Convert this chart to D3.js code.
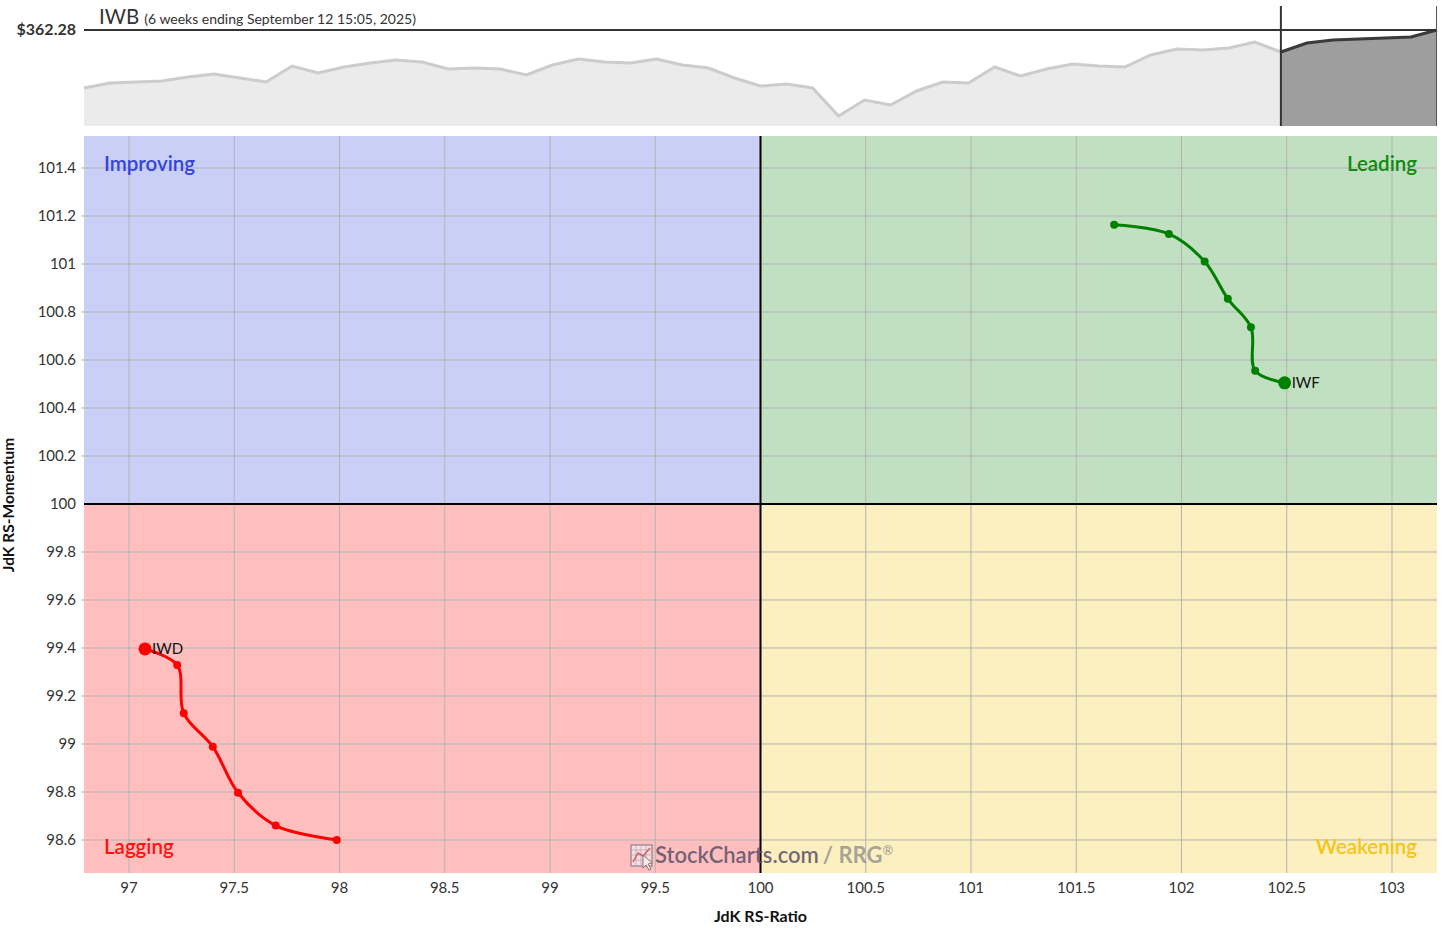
<!DOCTYPE html>
<html>
<head>
<meta charset="utf-8">
<script src="https://cdn.jsdelivr.net/npm/d3@7"></script>
<style>
  html, body { margin: 0; padding: 0; background: #fff; }
  svg { display: block; font-family: Lato, "Noto Sans", sans-serif; }
</style>
</head>
<body>
<svg id="chart" width="1445" height="931"></svg>
<script>
// ---------- data ----------
const benchmark = "IWB";
const subtitle = "(6 weeks ending September 12 15:05, 2025)";
const lastPriceLabel = "$362.28";

// benchmark price history (oldest -> newest); last 7 points are the highlighted 6-week window
const prices = [350.68, 351.68, 351.88, 352.08, 352.88, 353.48, 352.68, 351.88, 355.08, 353.68,
  354.88, 355.68, 356.28, 355.88, 354.48, 354.68, 354.48, 353.28, 355.28, 356.48,
  355.88, 355.68, 356.48, 355.28, 354.68, 352.68, 351.08, 351.48, 350.68, 345.08,
  348.28, 347.28, 350.08, 351.88, 351.68, 354.88, 353.08, 354.48, 355.48, 355.08,
  354.88, 357.28, 358.48, 358.28, 358.68, 359.88, 357.88, 359.68, 360.28, 360.48,
  360.68, 360.88, 362.28];
const tailStart = 46; // index where the 6-week window begins

// RRG tails (oldest -> newest)
const iwfRatio    = [101.68, 101.94, 102.11, 102.22, 102.33, 102.35, 102.49];
const iwfMomentum = [101.164, 101.125, 101.01, 100.855, 100.736, 100.555, 100.505];
const iwdRatio    = [97.987, 97.697, 97.518, 97.398, 97.26, 97.229, 97.076];
const iwdMomentum = [98.60, 98.66, 98.797, 98.989, 99.128, 99.329, 99.396];

const xTicks = [97, 97.5, 98, 98.5, 99, 99.5, 100, 100.5, 101, 101.5, 102, 102.5, 103];
const yTicks = [98.6, 98.8, 99, 99.2, 99.4, 99.6, 99.8, 100, 100.2, 100.4, 100.6, 100.8, 101, 101.2, 101.4];

const series = [
  { name: "IWF", ratio: iwfRatio, momentum: iwfMomentum, color: "#008000" },
  { name: "IWD", ratio: iwdRatio, momentum: iwdMomentum, color: "#ff0000" }
];

// ---------- layout ----------
const svg = d3.select("#chart");
const L = 84, R = 1437, T = 136, B = 873;
const x = d3.scaleLinear().domain([96.7862, 103.2138]).range([L, R]);
const y = d3.scaleLinear().domain([98.4625, 101.5333]).range([B, T]);

// ---------- price panel ----------
const pT = 30, pB = 126;
const px = d3.scaleLinear().domain([0, prices.length - 1]).range([L, R]);
const py = d3.scaleLinear().domain([343.08, 362.28]).range([pB, pT]);
const pts = prices.map((v, i) => [i, v]);
const area = d3.area().x(d => px(d[0])).y0(pB).y1(d => py(d[1]));
const line = d3.line().x(d => px(d[0])).y(d => py(d[1]));

const hist = pts.slice(0, tailStart + 1);
const tail = pts.slice(tailStart);
svg.append("path").attr("d", area(hist)).attr("fill", "#ebebeb");
svg.append("path").attr("d", line(hist)).attr("fill", "none").attr("stroke", "#cccccc").attr("stroke-width", 3);
svg.append("path").attr("d", area(tail)).attr("fill", "#9e9e9e");
svg.append("path").attr("d", line(tail)).attr("fill", "none").attr("stroke", "#3a3a3a").attr("stroke-width", 3);

svg.append("line").attr("x1", L).attr("x2", R).attr("y1", py(prices[prices.length - 1])).attr("y2", py(prices[prices.length - 1]))
  .attr("stroke", "#333").attr("stroke-width", 2);
svg.append("line").attr("x1", px(tailStart)).attr("x2", px(tailStart)).attr("y1", 6).attr("y2", pB)
  .attr("stroke", "#333").attr("stroke-width", 2);
svg.append("line").attr("x1", R - 0.5).attr("x2", R - 0.5).attr("y1", 6).attr("y2", pB)
  .attr("stroke", "#555").attr("stroke-width", 1);

svg.append("text").attr("x", 76).attr("y", 35).attr("text-anchor", "end")
  .attr("font-size", 16).attr("font-weight", "bold").attr("fill", "#333").text(lastPriceLabel);
const hdr = svg.append("text").attr("x", 99).attr("y", 24).attr("fill", "#333");
hdr.append("tspan").attr("font-size", 20.5).text(benchmark);
hdr.append("tspan").attr("font-size", 14).attr("dx", 5).text(subtitle);

// ---------- quadrants ----------
const quads = [
  { x0: x.domain()[0], x1: 100, y0: 100, y1: y.domain()[1], fill: "#c9cff5" },
  { x0: 100, x1: x.domain()[1], y0: 100, y1: y.domain()[1], fill: "#c1e0c1" },
  { x0: x.domain()[0], x1: 100, y0: y.domain()[0], y1: 100, fill: "#ffbfbf" },
  { x0: 100, x1: x.domain()[1], y0: y.domain()[0], y1: 100, fill: "#fcefc0" }
];
svg.selectAll("rect.q").data(quads).enter().append("rect")
  .attr("x", d => x(d.x0)).attr("y", d => y(d.y1))
  .attr("width", d => x(d.x1) - x(d.x0)).attr("height", d => y(d.y0) - y(d.y1))
  .attr("fill", d => d.fill);

// grid
svg.append("g").selectAll("line").data(xTicks.filter(t => t !== 100)).enter().append("line")
  .attr("x1", d => x(d)).attr("x2", d => x(d)).attr("y1", T).attr("y2", B)
  .attr("stroke", "#b4b4b4").attr("stroke-width", 1);
svg.append("g").selectAll("line").data(yTicks.filter(t => t !== 100)).enter().append("line")
  .attr("x1", L - 3).attr("x2", R).attr("y1", d => y(d)).attr("y2", d => y(d))
  .attr("stroke", "#b4b4b4").attr("stroke-width", 1);

// center lines
svg.append("line").attr("x1", x(100)).attr("x2", x(100)).attr("y1", T).attr("y2", B).attr("stroke", "#000").attr("stroke-width", 2);
svg.append("line").attr("x1", L).attr("x2", R).attr("y1", y(100)).attr("y2", y(100)).attr("stroke", "#000").attr("stroke-width", 2);

// quadrant labels
const ql = [
  { t: "Improving", x: 104, y: 171, a: "start", c: "#3344dd" },
  { t: "Leading", x: 1417, y: 171, a: "end", c: "#118811" },
  { t: "Lagging", x: 104, y: 854, a: "start", c: "#ff1111" },
  { t: "Weakening", x: 1417, y: 854, a: "end", c: "#f5c518" }
];
svg.selectAll("text.ql").data(ql).enter().append("text")
  .attr("x", d => d.x).attr("y", d => d.y).attr("text-anchor", d => d.a)
  .attr("font-size", 20.5).attr("font-weight", 600).attr("fill", d => d.c).text(d => d.t);

// watermark
const wm = svg.append("g");
const ic = wm.append("g").attr("opacity", 0.7);
ic.append("rect").attr("x", 631).attr("y", 845).attr("width", 21).attr("height", 21)
  .attr("fill", "#eee").attr("stroke", "#6a6078").attr("stroke-width", 1.2);
[636, 641, 646].forEach(v => {
  ic.append("line").attr("x1", v).attr("x2", v).attr("y1", 845).attr("y2", 866).attr("stroke", "#a89ab0").attr("stroke-width", 0.8);
  ic.append("line").attr("x1", 631).attr("x2", 652).attr("y1", v + 214).attr("y2", v + 214).attr("stroke", "#a89ab0").attr("stroke-width", 0.8);
});
ic.append("path").attr("d", "M633,862 L638,853 L643,856 L650,848").attr("fill", "none").attr("stroke", "#cc3333").attr("stroke-width", 1.5);
ic.append("path").attr("d", "M643,855 L643,868 L646,865 L649,870 L651,869 L648,864 L652,863 Z").attr("fill", "#fff").attr("stroke", "#555").attr("stroke-width", 1);
const wt = wm.append("text").attr("x", 655).attr("y", 863).attr("font-size", 22).attr("font-weight", 600);
wt.append("tspan").attr("fill", "#5a5068").attr("fill-opacity", 0.85).text("StockCharts.com");
wt.append("tspan").attr("fill", "#8a8a8a").attr("fill-opacity", 0.75).attr("font-weight", "bold").attr("dx", 4).text("/ RRG");
wt.append("tspan").attr("fill", "#8a8a8a").attr("fill-opacity", 0.75).attr("font-size", 13).attr("dy", -8).text("®");

// axes labels
svg.append("g").selectAll("text").data(xTicks).enter().append("text")
  .attr("x", d => x(d)).attr("y", 893).attr("text-anchor", "middle")
  .attr("font-size", 15).attr("fill", "#333").text(d => d3.format("")(d));
svg.append("g").selectAll("text").data(yTicks).enter().append("text")
  .attr("x", 76).attr("y", d => y(d) + 5).attr("text-anchor", "end")
  .attr("font-size", 15).attr("fill", "#333").text(d => d3.format("")(+d.toFixed(1)));

svg.append("text").attr("x", x(100)).attr("y", 922).attr("text-anchor", "middle")
  .attr("font-size", 16).attr("font-weight", "bold").attr("fill", "#111").text("JdK RS-Ratio");
svg.append("text").attr("transform", `translate(14,${y(100) + 1}) rotate(-90)`).attr("text-anchor", "middle")
  .attr("font-size", 15.5).attr("font-weight", "bold").attr("fill", "#111").text("JdK RS-Momentum");

// ---------- tails ----------
const tl = d3.line().x(d => x(d[0])).y(d => y(d[1])).curve(d3.curveCatmullRom.alpha(0.5));
series.forEach(s => {
  const p = s.ratio.map((r, i) => [r, s.momentum[i]]);
  const g = svg.append("g");
  g.append("path").attr("d", tl(p)).attr("fill", "none").attr("stroke", s.color).attr("stroke-width", 3);
  g.selectAll("circle").data(p).enter().append("circle")
    .attr("cx", d => x(d[0])).attr("cy", d => y(d[1]))
    .attr("r", (d, i) => i === p.length - 1 ? 6.5 : 4).attr("fill", s.color);
  const h = p[p.length - 1];
  g.append("text").attr("x", x(h[0]) + 7).attr("y", y(h[1]) + 5.5)
    .attr("font-size", 15).attr("fill", "#111").text(s.name);
});
</script>
</body>
</html>
